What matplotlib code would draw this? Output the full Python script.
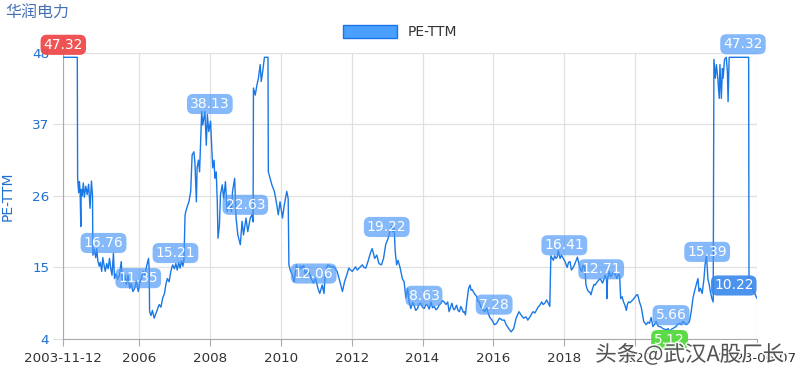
import matplotlib
matplotlib.use("Agg")
import matplotlib.pyplot as plt
import matplotlib.patheffects as pe
from matplotlib.patches import Patch

plt.rcParams['font.family'] = ['DejaVu Sans', 'Noto Sans CJK SC']

# PE-TTM series, x in decimal years
pe_years = [
    2003.866, 2004.26, 2004.27, 2004.30, 2004.32, 2004.34, 2004.36, 2004.37, 2004.40, 2004.43,
    2004.46, 2004.50, 2004.54, 2004.58, 2004.62, 2004.66, 2004.69, 2004.70, 2004.74, 2004.78,
    2004.81, 2004.84, 2004.88, 2004.91, 2004.95, 2004.98, 2005.02, 2005.05, 2005.09, 2005.13,
    2005.17, 2005.20, 2005.24, 2005.28, 2005.31, 2005.35, 2005.40, 2005.45, 2005.50, 2005.53,
    2005.57, 2005.60, 2005.64, 2005.69, 2005.74, 2005.78, 2005.83, 2005.88, 2005.93, 2005.98,
    2006.02, 2006.07, 2006.12, 2006.17, 2006.22, 2006.27, 2006.29, 2006.30, 2006.34, 2006.38,
    2006.43, 2006.47, 2006.52, 2006.57, 2006.62, 2006.67, 2006.72, 2006.76, 2006.80, 2006.85,
    2006.90, 2006.95, 2007.00, 2007.04, 2007.08, 2007.12, 2007.16, 2007.20, 2007.24, 2007.27,
    2007.30, 2007.32, 2007.37, 2007.41, 2007.46, 2007.50, 2007.55, 2007.58, 2007.62, 2007.64,
    2007.68, 2007.71, 2007.77, 2007.80, 2007.86, 2007.90, 2007.93, 2007.97, 2008.02, 2008.05,
    2008.08, 2008.12, 2008.14, 2008.18, 2008.21, 2008.23, 2008.27, 2008.30, 2008.35, 2008.39,
    2008.44, 2008.49, 2008.55, 2008.61, 2008.64, 2008.70, 2008.74, 2008.79, 2008.86, 2008.91,
    2008.95, 2009.02, 2009.07, 2009.14, 2009.19, 2009.22, 2009.23, 2009.28, 2009.33, 2009.37,
    2009.42, 2009.45, 2009.49, 2009.54, 2009.64, 2009.65, 2009.70, 2009.75, 2009.82, 2009.89,
    2009.93, 2009.98, 2010.05, 2010.10, 2010.17, 2010.21, 2010.23, 2010.28, 2010.33, 2010.38,
    2010.44, 2010.51, 2010.56, 2010.60, 2010.65, 2010.70, 2010.75, 2010.79, 2010.86, 2010.92,
    2010.98, 2011.05, 2011.10, 2011.17, 2011.22, 2011.26, 2011.33, 2011.41, 2011.50, 2011.59,
    2011.67, 2011.74, 2011.80, 2011.86, 2011.92, 2011.97, 2012.02, 2012.11, 2012.16, 2012.21,
    2012.30, 2012.35, 2012.40, 2012.46, 2012.54, 2012.58, 2012.65, 2012.71, 2012.77, 2012.84,
    2012.90, 2012.96, 2013.03, 2013.08, 2013.12, 2013.16, 2013.20, 2013.23, 2013.27, 2013.31,
    2013.37, 2013.43, 2013.48, 2013.53, 2013.58, 2013.62, 2013.67, 2013.72, 2013.76, 2013.81,
    2013.86, 2013.90, 2013.95, 2014.00, 2014.05, 2014.10, 2014.14, 2014.19, 2014.24, 2014.28,
    2014.33, 2014.38, 2014.42, 2014.47, 2014.52, 2014.56, 2014.61, 2014.66, 2014.71, 2014.75,
    2014.79, 2014.83, 2014.87, 2014.90, 2014.96, 2015.00, 2015.04, 2015.08, 2015.11, 2015.15,
    2015.18, 2015.21, 2015.25, 2015.30, 2015.34, 2015.37, 2015.40, 2015.46, 2015.53, 2015.56,
    2015.60, 2015.64, 2015.68, 2015.75, 2015.81, 2015.89, 2015.96, 2016.03, 2016.09, 2016.17,
    2016.25, 2016.31, 2016.36, 2016.43, 2016.50, 2016.57, 2016.64, 2016.72, 2016.78, 2016.85,
    2016.92, 2016.97, 2017.03, 2017.08, 2017.12, 2017.17, 2017.22, 2017.26, 2017.31, 2017.36,
    2017.40, 2017.45, 2017.50, 2017.55, 2017.59, 2017.62, 2017.66, 2017.69, 2017.73, 2017.76,
    2017.80, 2017.83, 2017.88, 2017.92, 2017.95, 2018.02, 2018.08, 2018.12, 2018.16, 2018.20,
    2018.24, 2018.30, 2018.37, 2018.42, 2018.46, 2018.49, 2018.54, 2018.58, 2018.61, 2018.65,
    2018.68, 2018.72, 2018.75, 2018.80, 2018.84, 2018.87, 2018.93, 2019.01, 2019.05, 2019.08,
    2019.12, 2019.15, 2019.19, 2019.20, 2019.22, 2019.27, 2019.30, 2019.34, 2019.38, 2019.41,
    2019.45, 2019.48, 2019.52, 2019.56, 2019.59, 2019.63, 2019.67, 2019.71, 2019.75, 2019.78,
    2019.81, 2019.86, 2019.91, 2019.96, 2020.00, 2020.04, 2020.07, 2020.12, 2020.17, 2020.24,
    2020.31, 2020.36, 2020.40, 2020.45, 2020.50, 2020.55, 2020.59, 2020.64, 2020.69, 2020.74,
    2020.78, 2020.83, 2020.87, 2020.93, 2020.97, 2021.02, 2021.06, 2021.11, 2021.15, 2021.20,
    2021.25, 2021.30, 2021.34, 2021.39, 2021.44, 2021.49, 2021.53, 2021.58, 2021.63, 2021.67,
    2021.72, 2021.77, 2021.80, 2021.84, 2021.89, 2021.94, 2021.97, 2022.01, 2022.05, 2022.09,
    2022.12, 2022.16, 2022.20, 2022.22, 2022.26, 2022.29, 2022.33, 2022.37, 2022.39, 2022.43,
    2022.46, 2022.48, 2022.52, 2022.57, 2022.60, 2022.62, 2022.65, 2023.20, 2023.21, 2023.27,
    2023.32, 2023.37, 2023.43,
]
pe_values = [
    47.32, 47.32, 28.7, 26.5, 28.2, 26.8, 21.3, 27.0, 26.0, 28.0,
    25.8, 27.5, 26.2, 27.8, 24.1, 28.3, 26.0, 16.9, 17.8, 16.5,
    17.9, 16.0, 15.2, 15.8, 14.4, 16.5, 15.2, 14.4, 15.6, 14.8,
    16.4, 15.0, 13.8, 17.2, 13.3, 14.0, 13.2, 13.8, 15.9, 13.0,
    12.8, 13.9, 12.4, 13.8, 11.8, 12.5, 11.3, 11.8, 12.9, 11.3,
    12.6, 13.3, 14.4, 13.8, 15.3, 16.4, 14.5, 8.2, 7.6, 8.4,
    7.2, 7.8, 8.6, 9.3, 8.9, 10.3, 11.0, 12.4, 13.3, 12.8,
    14.4, 15.4, 14.8, 15.6, 14.6, 15.8, 14.9, 16.0, 15.2, 16.2,
    23.0, 23.6, 24.5, 25.1, 26.7, 32.3, 32.8, 31.0, 25.1, 30.3,
    31.5, 29.7, 39.0, 36.9, 39.0, 33.8, 38.5, 35.9, 37.5, 33.8,
    30.3, 31.5, 28.7, 29.7, 25.1, 19.5, 21.5, 26.2, 27.7, 25.6,
    28.2, 23.6, 25.1, 23.6, 26.7, 28.7, 22.6, 20.0, 18.5, 22.1,
    20.0, 22.6, 20.5, 22.6, 23.1, 22.0, 42.6, 41.5, 43.1, 44.1,
    46.2, 43.6, 45.1, 47.32, 47.32, 29.7, 28.7, 27.7, 26.7, 24.6,
    23.1, 25.1, 22.6, 24.6, 26.7, 25.6, 15.4, 14.4, 13.8, 12.8,
    15.4, 14.4, 15.2, 14.9, 15.3, 13.8, 14.6, 14.4, 13.3, 12.6,
    13.3, 11.8, 11.0, 12.3, 11.0, 14.4, 15.4, 15.1, 15.1, 14.4,
    12.8, 11.3, 12.8, 13.8, 14.9, 14.6, 14.4, 15.1, 14.6, 14.9,
    15.4, 15.0, 14.9, 15.9, 17.4, 17.9, 16.4, 16.9, 15.6, 15.4,
    16.4, 18.5, 19.5, 20.5, 21.3, 20.5, 21.0, 17.4, 15.4, 16.1,
    14.9, 13.3, 12.8, 10.3, 11.8, 9.7, 8.7, 9.6, 9.2, 8.4,
    8.7, 9.4, 9.5, 8.9, 8.7, 9.3, 9.2, 8.6, 9.7, 8.8,
    9.0, 8.5, 8.7, 9.2, 9.5, 9.9, 9.7, 9.3, 9.7, 8.2,
    8.9, 9.5, 8.6, 8.5, 9.2, 8.4, 8.2, 9.0, 8.7, 8.1,
    8.2, 7.7, 9.7, 11.8, 12.3, 11.5, 11.6, 11.0, 10.5, 9.8,
    9.7, 9.0, 8.7, 8.2, 8.7, 7.4, 6.9, 6.2, 6.4, 7.2,
    6.9, 6.9, 6.2, 5.6, 5.1, 5.6, 7.2, 8.2, 7.7, 7.2,
    7.4, 6.9, 7.4, 7.9, 8.2, 8.0, 8.5, 8.9, 9.2, 9.7,
    9.3, 9.5, 10.0, 9.5, 9.0, 16.8, 16.4, 16.1, 16.8, 16.4,
    16.6, 17.6, 16.4, 16.9, 16.6, 15.9, 15.0, 15.8, 15.9, 14.6,
    14.9, 15.6, 16.6, 15.4, 14.6, 14.4, 15.4, 14.9, 12.3, 11.6,
    11.3, 11.2, 10.8, 11.8, 12.4, 12.3, 12.8, 13.3, 12.9, 12.6,
    13.2, 13.8, 13.3, 10.2, 13.3, 14.4, 13.6, 13.8, 14.3, 14.1,
    13.8, 13.3, 14.0, 13.8, 10.2, 10.5, 9.7, 9.2, 8.4, 9.3,
    9.7, 9.6, 9.9, 10.2, 10.5, 10.8, 10.8, 9.7, 8.9, 6.7,
    6.2, 6.6, 6.4, 7.3, 5.9, 6.3, 6.7, 6.0, 5.9, 5.8,
    5.6, 5.5, 5.4, 5.6, 5.12, 5.5, 5.6, 5.8, 5.9, 6.3,
    6.4, 6.2, 6.7, 6.5, 6.2, 6.4, 6.7, 8.2, 10.3, 11.3,
    12.3, 13.3, 11.3, 11.8, 11.0, 13.3, 15.4, 16.9, 13.3, 12.3,
    11.3, 10.3, 9.7, 47.0, 44.1, 46.2, 44.1, 41.0, 46.2, 41.0,
    45.6, 44.1, 47.0, 47.32, 45.1, 40.5, 47.32, 47.32, 13.3, 12.3,
    11.6, 11.0, 10.3,
]

# value tags on the line
mark_years = [2005.00, 2005.98, 2007.03, 2008.00, 2009.00, 2010.93, 2012.99, 2014.04,
              2016.02, 2018.00, 2019.04, 2021.01, 2022.03, 2023.04]
mark_values = [16.76, 11.35, 15.21, 38.13, 22.63, 12.06, 19.22, 8.63,
               7.28, 16.41, 12.71, 5.66, 15.39, 47.32]
last_year, last_value = 2022.78, 10.22
max_year, max_value = 2003.866, 47.32
min_year, min_value = 2020.97, 5.12

xtick_pos = [2003.863, 2006, 2008, 2010, 2012, 2014, 2016, 2018, 2020, 2023.430]
xtick_labels = ['2003-11-12', '2006', '2008', '2010', '2012', '2014', '2016',
                '2018', '2020', '2023-06-07']
yticks = [4, 15, 26, 37, 48]

line_color = '#1a78e6'

fig = plt.figure(figsize=(8, 3.75), dpi=100)
ax = fig.add_axes([0.079, 0.096, 0.867, 0.763])

ax.plot(pe_years, pe_values, color=line_color, linewidth=1.0, zorder=3)

ax.set_xlim(xtick_pos[0], xtick_pos[-1])
ax.set_ylim(4, 48)
ax.set_xticks(xtick_pos)
ax.set_xticklabels(xtick_labels)
ax.set_yticks(yticks)
ax.grid(True, color='#e0e0e0', linewidth=0.9)
ax.set_axisbelow(True)
for s in ['top', 'right']:
    ax.spines[s].set_visible(False)
for s in ['left', 'bottom']:
    ax.spines[s].set_color('#aaaaaa')
ax.tick_params(axis='x', colors='#aaaaaa', labelcolor='#333333', labelsize=9.7,
               length=5, pad=4)
ax.tick_params(axis='y', colors='#dddddd', labelcolor='#1f6fd1', labelsize=9.7,
               length=7, pad=3)

ax.set_ylabel('PE-TTM', color='#1f6fd1', fontsize=10)
ax.yaxis.set_label_coords(-0.07, 0.5)


def tag(x, y, text, color, dy):
    ax.annotate(text, xy=(x, y), xytext=(0, dy), textcoords='offset points',
                ha='center', va='center', color='white', fontsize=10,
                bbox=dict(boxstyle='round,pad=0.22,rounding_size=0.45',
                          facecolor=color, edgecolor='none'),
                zorder=5, annotation_clip=False)


for x, y in zip(mark_years, mark_values):
    tag(x, y, f'{y:.2f}', (0.30, 0.60, 0.97, 0.68), 9.4)
tag(last_year, last_value, f'{last_value:.2f}', (0.22, 0.53, 0.93, 0.9), 9.4)
tag(max_year, max_value, f'{max_value:.2f}', (0.93, 0.27, 0.27, 0.92), 9.0)
tag(min_year, min_value, f'{min_value:.2f}', (0.33, 0.85, 0.24, 0.95), -6.0)

fig.text(0.006, 0.968, '华润电力', color='#4670b4', fontsize=11.5,
         family=['Noto Sans CJK SC'], va='center', ha='left')

fig.legend(handles=[Patch(facecolor='#4aa0ff', edgecolor='#1a73e8', label='PE-TTM')],
           loc='center', bbox_to_anchor=(0.5, 0.915), frameon=False,
           fontsize=10, handlelength=3.9, handleheight=1.1, labelcolor='#333333')

wm = fig.text(0.744, 0.053, '头条 @武汉A股厂长', color='#3a3a3a', fontsize=15.5,
              family=['Noto Sans CJK SC', 'DejaVu Sans'], va='center', ha='left',
              alpha=0.85, zorder=10)
wm.set_path_effects([pe.withStroke(linewidth=2.5, foreground='white')])

fig.savefig('out.png', dpi=100)
